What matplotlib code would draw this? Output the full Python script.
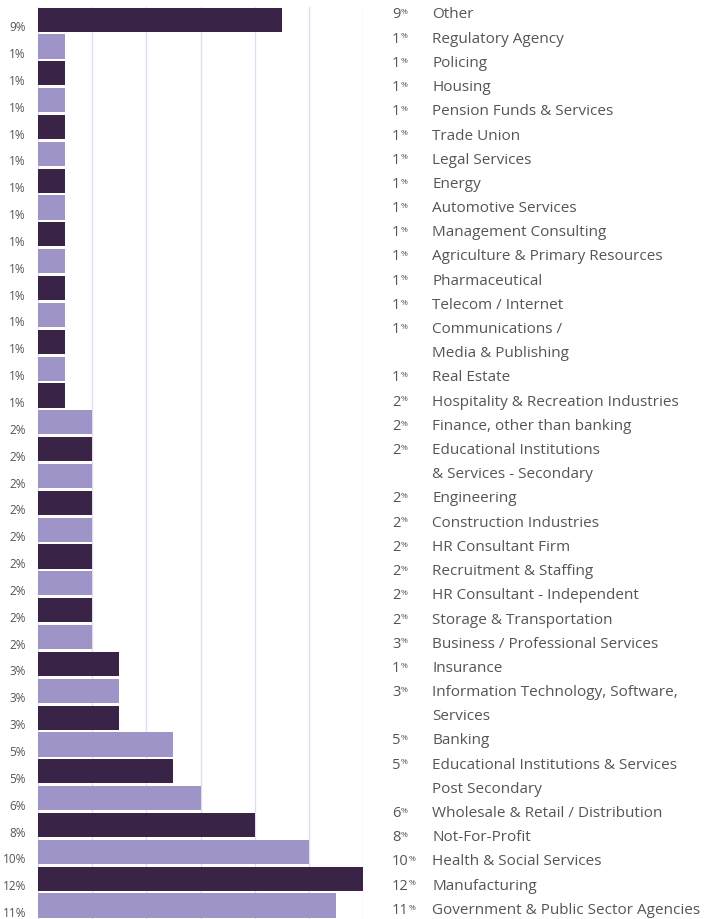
import matplotlib.pyplot as plt

# bar values, top to bottom (as drawn on the left)
bar_values = [9, 1, 1, 1, 1, 1, 1, 1, 1, 1, 1, 1, 1, 1, 1,
              2, 2, 2, 2, 2, 2, 2, 2, 2,
              3, 3, 3, 5, 5, 6, 8, 10, 12, 11]

# right hand list (value shown, text lines)
list_values = [9, 1, 1, 1, 1, 1, 1, 1, 1, 1, 1, 1, 1, 1, 1,
               2, 2, 2, 2, 2, 2, 2, 2, 2,
               3, 1, 3, 5, 5, 6, 8, 10, 12, 11]
list_labels = ['Other', 'Regulatory Agency', 'Policing', 'Housing',
               'Pension Funds & Services', 'Trade Union', 'Legal Services', 'Energy',
               'Automotive Services', 'Management Consulting',
               'Agriculture & Primary Resources', 'Pharmaceutical', 'Telecom / Internet',
               'Communications /\nMedia & Publishing', 'Real Estate',
               'Hospitality & Recreation Industries', 'Finance, other than banking',
               'Educational Institutions\n& Services - Secondary', 'Engineering',
               'Construction Industries', 'HR Consultant Firm', 'Recruitment & Staffing',
               'HR Consultant - Independent', 'Storage & Transportation',
               'Business / Professional Services', 'Insurance',
               'Information Technology, Software,\nServices', 'Banking',
               'Educational Institutions & Services\nPost Secondary',
               'Wholesale & Retail / Distribution', 'Not-For-Profit',
               'Health & Social Services', 'Manufacturing',
               'Government & Public Sector Agencies']

dark = '#392347'
light = '#9e94c7'
grid_col = '#e2def2'
text_col = '#555555'

W, H = 708, 920
fig = plt.figure(figsize=(W / 100, H / 100), dpi=100)

# bar axes, placed in pixel terms
x0, x1, y_top, y_bot = 38, 363, 8, 920
ax = fig.add_axes([x0 / W, 1 - y_bot / H, (x1 - x0) / W, (y_bot - y_top) / H])

n = len(bar_values)
ypos = list(range(n))
colors = [dark if i % 2 == 0 else light for i in range(n)]
ax.barh(ypos, bar_values, height=0.9, color=colors, zorder=2)
ax.set_xlim(0, 12)
ax.set_ylim(n - 0.5, -0.47)
for gx in range(0, 13, 2):
    ax.axvline(gx, color=grid_col, lw=1.0, zorder=1)
for s in ax.spines.values():
    s.set_visible(False)
ax.set_xticks([])
ax.set_yticks([])

# percent labels to the left of bars (sitting a bit low)
for i, v in enumerate(bar_values):
    ax.annotate(f'{v}%', xy=(0, i), xytext=(-12, -7), textcoords='offset pixels',
                ha='right', va='center', fontsize=8.5, color=text_col,
                family='Open Sans', annotation_clip=False)

# right hand list
line_h = 24.2
row = 0
for v, lab in zip(list_values, list_labels):
    y = 1 - (15 + row * line_h) / H
    t = fig.text(392 / W, y, str(v), ha='left', va='center', fontsize=10.5,
                 color=text_col, family='Open Sans')
    ax.annotate('%', xy=(1, 0.88), xycoords=t, xytext=(0, 0), textcoords='offset pixels',
                ha='left', va='top', fontsize=6, color=text_col, family='Open Sans')
    for k, part in enumerate(lab.split('\n')):
        yy = 1 - (15 + (row + k) * line_h) / H
        fig.text(432 / W, yy, part, ha='left', va='center', fontsize=11,
                 color=text_col, family='Open Sans')
    row += lab.count('\n') + 1

fig.savefig('out.png', dpi=100)
